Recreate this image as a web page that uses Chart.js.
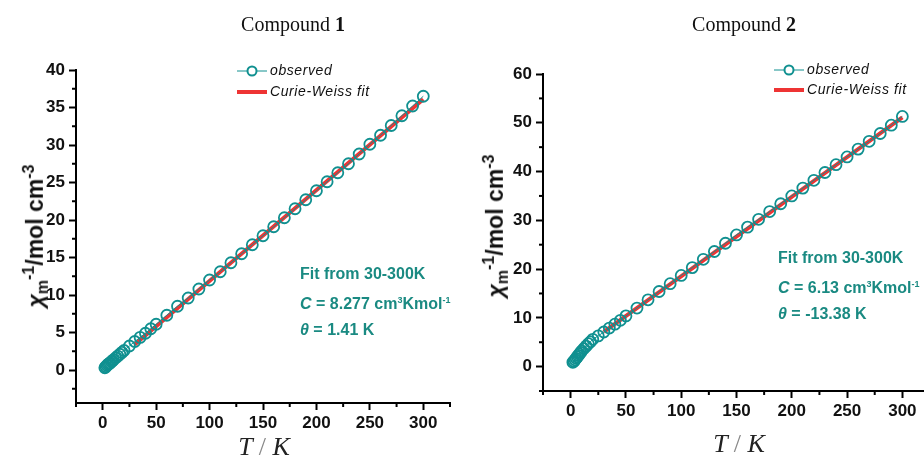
<!DOCTYPE html>
<html>
<head>
<meta charset="utf-8">
<script src="https://cdn.jsdelivr.net/npm/chart.js@4.4.1/dist/chart.umd.min.js"></script>
<style>
    html, body { margin: 0; padding: 0; background: #fff; width: 924px; height: 462px; overflow: hidden; position: relative; }
    canvas { position: absolute; top: 0; }
    #chart1 { left: 0; }
    #chart2 { left: 462px; }
    .title { position: absolute; top: 13px; font: 20px "Liberation Serif", "Times New Roman", serif; color: #111; transform: translateX(-50%); white-space: nowrap; }
    .xlab { position: absolute; font: italic 26px "Liberation Serif", "Times New Roman", serif; color: #222; transform: translate(-50%, -50%); white-space: nowrap; }
    .xlab span { color: #888; font-style: normal; }
    .ylab { position: absolute; font: bold 23px "Liberation Sans", Arial, sans-serif; color: #111; transform: translate(-50%, -50%) rotate(-90deg); white-space: nowrap; }
    .ylab sub, .ylab sup { font-size: 16px; }
    .note { position: absolute; font: bold 16px "Liberation Sans", Arial, sans-serif; color: #1a8a82; line-height: 26px; white-space: nowrap; }
    .note sup { font-size: 9px; }
</style>
</head>
<body>
<canvas id="chart1" width="462" height="462"></canvas>
<canvas id="chart2" width="470" height="462"></canvas>

<div class="title" style="left:293px">Compound <b>1</b></div>
<div class="title" style="left:744px">Compound <b>2</b></div>

<div class="ylab" style="left:36px; top:236px"><i>χ</i><sub>m</sub><sup>-1</sup>/mol cm<sup>-3</sup></div>
<div class="ylab" style="left:496px; top:226px"><i>χ</i><sub>m</sub><sup>-1</sup>/mol cm<sup>-3</sup></div>

<div class="xlab" style="left:264px; top:447px">T <span>/</span> K</div>
<div class="xlab" style="left:739px; top:444px">T <span>/</span> K</div>

<div class="note" style="left:300px; top:261px">Fit from 30-300K<br><i>C</i> = 8.277 cm<sup>3</sup>Kmol<sup>-1</sup><br><i>θ</i> = 1.41 K</div>
<div class="note" style="left:778px; top:245px">Fit from 30-300K<br><i>C</i> = 6.13 cm<sup>3</sup>Kmol<sup>-1</sup><br><i>θ</i> = -13.38 K</div>

<script>
// Temperatures of the measured points (same for both compounds)
const tempObs = [2, 3, 4, 5, 6, 7, 8, 9, 10, 12, 14, 16, 18, 20, 25, 30, 35, 40, 45, 50,
    60, 70, 80, 90, 100, 110, 120, 130, 140, 150, 160, 170, 180, 190, 200,
    210, 220, 230, 240, 250, 260, 270, 280, 290, 300];

// Compound 1: inverse susceptibility
const chiInv1 = [0.3, 0.45, 0.6, 0.75, 0.85, 0.95, 1.1, 1.2, 1.35, 1.6, 1.85, 2.1, 2.35, 2.6, 3.2, 3.8, 4.35, 4.9, 5.5, 6.1,
    7.3, 8.5, 9.6, 10.8, 12.0, 13.1, 14.3, 15.5, 16.7, 17.9, 19.1, 20.3, 21.5, 22.7, 23.9,
    25.1, 26.3, 27.5, 28.8, 30.1, 31.3, 32.6, 33.9, 35.2, 36.5];

// Compound 2
const chiInv2 = [0.9, 1.1, 1.4, 1.7, 2.0, 2.3, 2.6, 2.9, 3.2, 3.7, 4.2, 4.7, 5.1, 5.6, 6.3, 7.1, 7.9, 8.7, 9.5, 10.4,
    12.0, 13.7, 15.4, 17.0, 18.7, 20.3, 22.0, 23.6, 25.3, 27.0, 28.6, 30.2, 31.8, 33.4, 35.0,
    36.6, 38.2, 39.8, 41.4, 43.0, 44.6, 46.2, 47.8, 49.5, 51.3];

// Curie-Weiss fit lines (30-300 K)
const fitT = [30, 300];
const fitChi1 = [3.4, 36.1];
const fitChi2 = [7.1, 51.1];

// Axis ticks
const xMajor = [0, 50, 100, 150, 200, 250, 300];
const xMinor = [-25, 25, 75, 125, 175, 225, 275, 325];
const yMajor1 = [0, 5, 10, 15, 20, 25, 30, 35, 40];
const yMinor1 = [-2.5, 2.5, 7.5, 12.5, 17.5, 22.5, 27.5, 32.5, 37.5];
const yMajor2 = [0, 10, 20, 30, 40, 50, 60];
const yMinor2 = [-5, 5, 15, 25, 35, 45, 55];

const legendLabels = ['observed', 'Curie-Weiss fit'];

const TEAL = '#109090';
const RED = '#ee3434';
const tickFont = { family: '"Liberation Sans", Arial, sans-serif', size: 17, weight: 'bold' };

// short ticks between the labelled ones
const minorTicks = {
    id: 'minorTicks',
    afterDraw(chart, args, opts) {
        const ctx = chart.ctx;
        const area = chart.chartArea;
        ctx.save();
        ctx.strokeStyle = '#000';
        ctx.lineWidth = 2;
        opts.x.forEach(v => {
            const px = chart.scales.x.getPixelForValue(v);
            ctx.beginPath();
            ctx.moveTo(px, area.bottom);
            ctx.lineTo(px, area.bottom + 4);
            ctx.stroke();
        });
        opts.y.forEach(v => {
            const py = chart.scales.y.getPixelForValue(v);
            ctx.beginPath();
            ctx.moveTo(area.left, py);
            ctx.lineTo(area.left - 4, py);
            ctx.stroke();
        });
        ctx.restore();
    }
};

// legend inside the plot, line + circle symbol like the original
const innerLegend = {
    id: 'innerLegend',
    afterDraw(chart, args, opts) {
        const ctx = chart.ctx;
        const obs = chart.data.datasets[0];
        const fit = chart.data.datasets[1];
        ctx.save();
        // observed row
        ctx.strokeStyle = obs.borderColor;
        ctx.lineWidth = 1;
        ctx.beginPath();
        ctx.moveTo(opts.x, opts.y);
        ctx.lineTo(opts.x + 30, opts.y);
        ctx.stroke();
        ctx.fillStyle = '#fff';
        ctx.lineWidth = 2;
        ctx.beginPath();
        ctx.arc(opts.x + 15, opts.y, 4.5, 0, Math.PI * 2);
        ctx.fill();
        ctx.stroke();
        // fit row
        ctx.strokeStyle = fit.borderColor;
        ctx.lineWidth = 4;
        ctx.beginPath();
        ctx.moveTo(opts.x, opts.y + opts.gap);
        ctx.lineTo(opts.x + 30, opts.y + opts.gap);
        ctx.stroke();
        ctx.fillStyle = '#111';
        ctx.font = 'italic 14px "Liberation Sans", Arial, sans-serif';
        ctx.letterSpacing = '0.6px';
        ctx.textBaseline = 'middle';
        ctx.fillText(legendLabels[0], opts.x + 33, opts.y);
        ctx.fillText(legendLabels[1], opts.x + 33, opts.y + opts.gap);
        ctx.restore();
    }
};

function makeChart(id, obsY, fitY, cfg) {
    const ctx = document.getElementById(id).getContext('2d');
    return new Chart(ctx, {
        type: 'scatter',
        data: {
            datasets: [{
                label: legendLabels[0],
                data: tempObs.map((t, i) => ({ x: t, y: obsY[i] })),
                showLine: true,
                borderColor: TEAL,
                borderWidth: 1,
                pointRadius: 5.5,
                pointBorderWidth: 1.8,
                pointBorderColor: TEAL,
                pointBackgroundColor: 'rgba(255,255,255,0)',
                order: 0
            }, {
                label: legendLabels[1],
                data: fitT.map((t, i) => ({ x: t, y: fitY[i] })),
                showLine: true,
                borderColor: RED,
                borderWidth: 4,
                pointRadius: 0,
                order: 1
            }]
        },
        options: {
            responsive: false,
            animation: false,
            devicePixelRatio: 1,
            layout: {
                autoPadding: false,
                padding: { top: cfg.top, right: cfg.right, left: 0, bottom: 0 }
            },
            plugins: {
                legend: { display: false },
                tooltip: { enabled: false },
                minorTicks: { x: xMinor, y: cfg.yMinor },
                innerLegend: cfg.legend
            },
            scales: {
                x: {
                    type: 'linear',
                    min: -25,
                    max: 325,
                    afterFit: s => { s.height = cfg.xHeight; },
                    afterBuildTicks: s => { s.ticks = xMajor.map(v => ({ value: v })); },
                    border: { display: true, color: '#000', width: 2 },
                    grid: { display: true, drawOnChartArea: false, drawTicks: true, tickLength: 7, tickWidth: 2, tickColor: '#000' },
                    ticks: { color: '#111', font: tickFont, padding: 3, maxRotation: 0 }
                },
                y: {
                    type: 'linear',
                    min: cfg.yMin,
                    max: cfg.yMax,
                    afterFit: s => { s.width = cfg.yWidth; },
                    afterBuildTicks: s => { s.ticks = cfg.yMajor.map(v => ({ value: v })); },
                    border: { display: true, color: '#000', width: 2 },
                    grid: { display: true, drawOnChartArea: false, drawTicks: true, tickLength: 7, tickWidth: 2, tickColor: '#000' },
                    ticks: { color: '#111', font: tickFont, padding: 4 }
                }
            }
        },
        plugins: [minorTicks, innerLegend]
    });
}

makeChart('chart1', chiInv1, fitChi1, {
    top: 70, right: 12, xHeight: 59, yWidth: 76,
    yMin: -4.4, yMax: 40, yMajor: yMajor1, yMinor: yMinor1,
    legend: { x: 237, y: 71, gap: 21 }
});

makeChart('chart2', chiInv2, fitChi2, {
    top: 74, right: 2, xHeight: 71, yWidth: 81,
    yMin: -5, yMax: 60, yMajor: yMajor2, yMinor: yMinor2,
    legend: { x: 312, y: 70, gap: 20 }
});
</script>
</body>
</html>
